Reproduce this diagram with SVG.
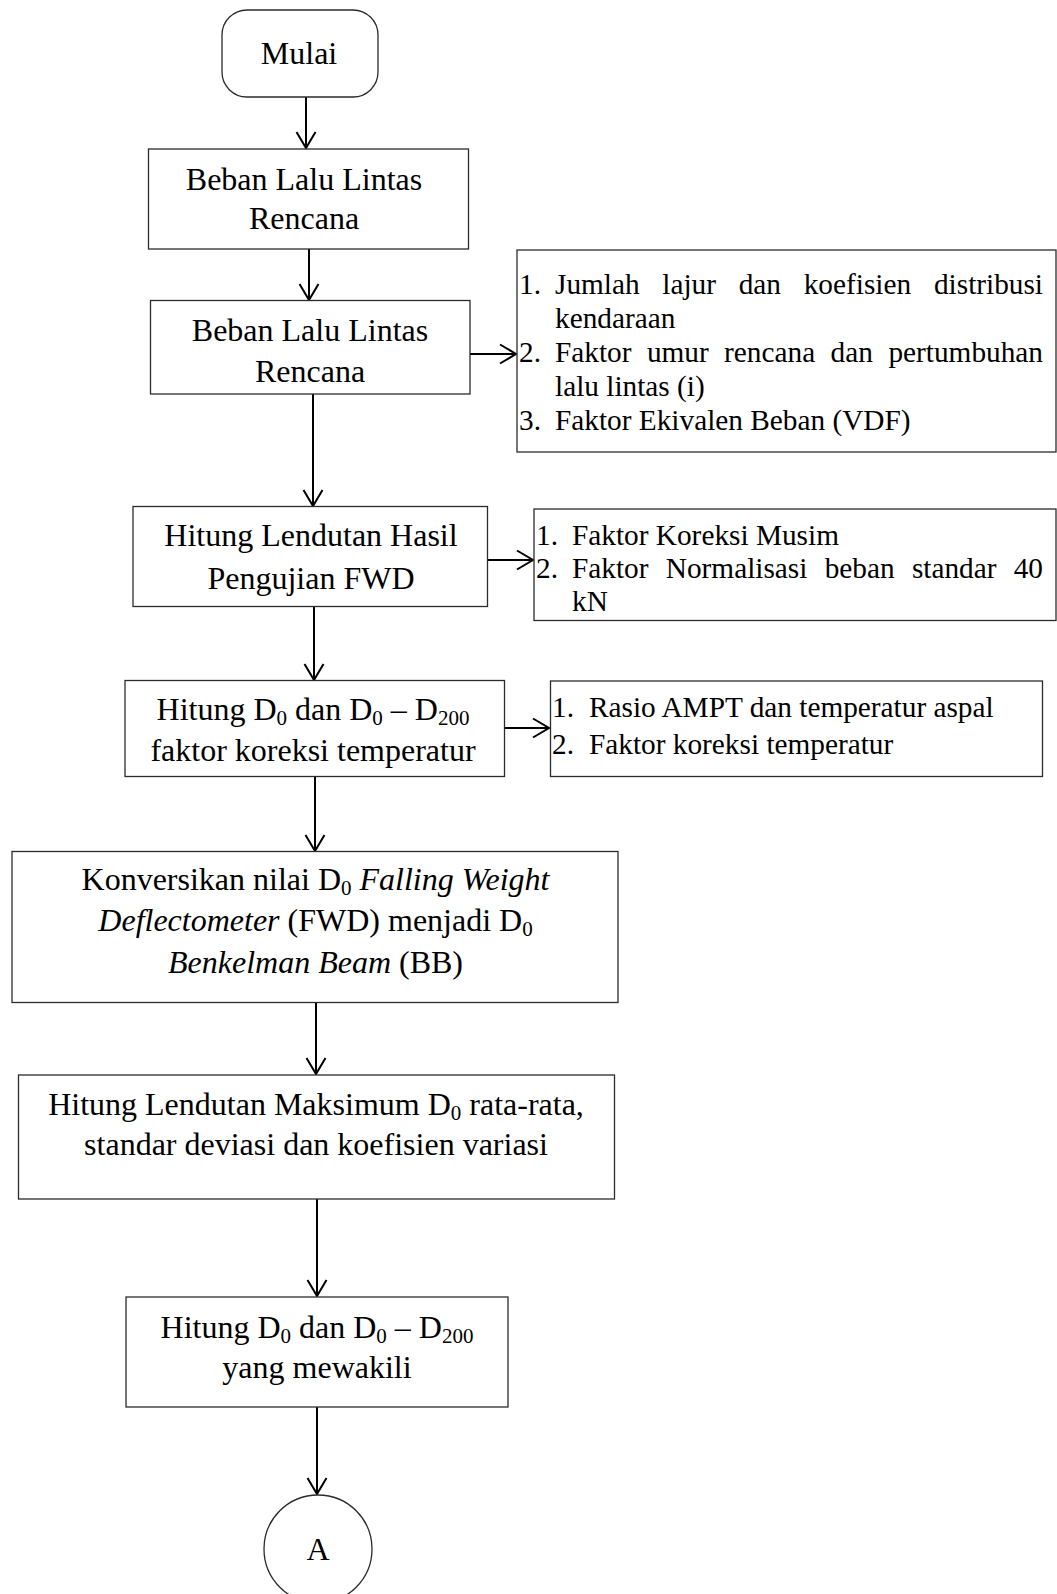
<svg xmlns="http://www.w3.org/2000/svg" width="1057" height="1594" viewBox="0 0 1057 1594">
  <style>
    .shape { fill: #ffffff; stroke: #2b2b2b; stroke-width: 1.3; }
    .conn { fill: none; stroke: #000000; stroke-width: 2; }
    .t { font-family: "Liberation Serif", "Times New Roman", serif; font-size: 32px; fill: #000000; }
    .tc { text-anchor: middle; }
    .l { font-family: "Liberation Serif", "Times New Roman", serif; font-size: 29.3px; fill: #000000; }
    .end { text-anchor: end; }
    .it { font-style: italic; }
    .sub { font-size: 21px; }
  </style>
  <defs>
    <marker id="open-arrow" markerUnits="userSpaceOnUse" markerWidth="24" markerHeight="24" refX="0" refY="0" viewBox="-18 -12 20 24" orient="auto">
      <path d="M -16 -9.5 L 0 0 L -16 9.5" fill="none" stroke="#000000" stroke-width="2"/>
    </marker>
  </defs>

  <rect width="1057" height="1594" fill="#ffffff"/>

  <!-- connectors -->
  <g id="connectors">
    <path class="conn" d="M 306 97 L 306 148" marker-end="url(#open-arrow)"/>
    <path class="conn" d="M 309 249 L 309 300" marker-end="url(#open-arrow)"/>
    <path class="conn" d="M 470 354 L 516 354" marker-end="url(#open-arrow)"/>
    <path class="conn" d="M 313 394 L 313 506" marker-end="url(#open-arrow)"/>
    <path class="conn" d="M 488 560 L 533 560" marker-end="url(#open-arrow)"/>
    <path class="conn" d="M 314 607 L 314 680" marker-end="url(#open-arrow)"/>
    <path class="conn" d="M 504 728 L 549 728" marker-end="url(#open-arrow)"/>
    <path class="conn" d="M 315 777 L 315 851" marker-end="url(#open-arrow)"/>
    <path class="conn" d="M 316 1003 L 316 1074" marker-end="url(#open-arrow)"/>
    <path class="conn" d="M 317 1199 L 317 1296" marker-end="url(#open-arrow)"/>
    <path class="conn" d="M 317 1407 L 317 1494" marker-end="url(#open-arrow)"/>
  </g>

  <!-- start terminal -->
  <g id="start">
    <rect class="shape" x="222" y="10" width="156" height="87" rx="25" ry="25"/>
    <text class="t tc" x="299" y="64">Mulai</text>
  </g>

  <g id="traffic-load-1">
    <rect class="shape" x="148.5" y="149" width="320" height="100"/>
    <text class="t tc" x="304" y="190">Beban Lalu Lintas</text>
    <text class="t tc" x="304" y="229">Rencana</text>
  </g>

  <g id="traffic-load-2">
    <rect class="shape" x="150.5" y="300.5" width="319.5" height="93.5"/>
    <text class="t tc" x="310" y="341">Beban Lalu Lintas</text>
    <text class="t tc" x="310" y="382">Rencana</text>
  </g>

  <g id="traffic-factors">
    <rect class="shape" x="517" y="250" width="539" height="202"/>
    <text class="l" x="519" y="294">1.</text>
    <text class="l" x="555" y="294">Jumlah</text>
    <text class="l" x="662.3" y="294">lajur</text>
    <text class="l" x="738.7" y="294">dan</text>
    <text class="l" x="803.7" y="294">koefisien</text>
    <text class="l end" x="1043" y="294">distribusi</text>
    <text class="l" x="555" y="328">kendaraan</text>
    <text class="l" x="519" y="362">2.</text>
    <text class="l" x="555" y="362">Faktor</text>
    <text class="l" x="646.9" y="362">umur</text>
    <text class="l" x="724.1" y="362">rencana</text>
    <text class="l" x="830.6" y="362">dan</text>
    <text class="l end" x="1043" y="362">pertumbuhan</text>
    <text class="l" x="555" y="396">lalu lintas (i)</text>
    <text class="l" x="519" y="430">3.</text>
    <text class="l" x="555" y="430">Faktor Ekivalen Beban (VDF)</text>
  </g>

  <g id="fwd-deflection">
    <rect class="shape" x="133" y="506.5" width="354.5" height="100"/>
    <text class="t tc" x="311" y="546">Hitung Lendutan Hasil</text>
    <text class="t tc" x="311" y="589">Pengujian FWD</text>
  </g>

  <g id="fwd-factors">
    <rect class="shape" x="534" y="509" width="522" height="111.5"/>
    <text class="l" x="536" y="545">1.</text>
    <text class="l" x="572" y="545">Faktor Koreksi Musim</text>
    <text class="l" x="536" y="578">2.</text>
    <text class="l" x="572" y="578">Faktor</text>
    <text class="l" x="665.8" y="578">Normalisasi</text>
    <text class="l" x="824.7" y="578">beban</text>
    <text class="l" x="911.9" y="578">standar</text>
    <text class="l end" x="1043" y="578">40</text>
    <text class="l" x="572" y="611">kN</text>
  </g>

  <g id="temperature-correction">
    <rect class="shape" x="125" y="680.5" width="379.5" height="96"/>
    <text class="t tc" x="313" y="720">Hitung D<tspan class="sub" dy="5">0</tspan><tspan dy="-5"> dan D</tspan><tspan class="sub" dy="5">0</tspan><tspan dy="-5"> – D</tspan><tspan class="sub" dy="5">200</tspan></text>
    <text class="t tc" x="313" y="761">faktor koreksi temperatur</text>
  </g>

  <g id="temperature-factors">
    <rect class="shape" x="550.5" y="681" width="492" height="95.5"/>
    <text class="l" x="552" y="717">1.</text>
    <text class="l" x="589" y="717">Rasio AMPT dan temperatur aspal</text>
    <text class="l" x="552" y="754">2.</text>
    <text class="l" x="589" y="754">Faktor koreksi temperatur</text>
  </g>

  <g id="fwd-to-bb">
    <rect class="shape" x="12" y="851.5" width="606" height="151"/>
    <text class="t tc" x="315.5" y="890">Konversikan nilai D<tspan class="sub" dy="5">0</tspan><tspan dy="-5" class="it"> Falling Weight</tspan></text>
    <text class="t tc" x="315.5" y="931"><tspan class="it">Deflectometer</tspan> (FWD) menjadi D<tspan class="sub" dy="5">0</tspan></text>
    <text class="t tc" x="315.5" y="973"><tspan class="it">Benkelman Beam</tspan> (BB)</text>
  </g>

  <g id="max-deflection">
    <rect class="shape" x="18.5" y="1075" width="596" height="124"/>
    <text class="t tc" x="316" y="1115">Hitung Lendutan Maksimum D<tspan class="sub" dy="5">0</tspan><tspan dy="-5"> rata-rata,</tspan></text>
    <text class="t tc" x="316" y="1155">standar deviasi dan koefisien variasi</text>
  </g>

  <g id="representative-deflection">
    <rect class="shape" x="126" y="1297" width="382" height="110"/>
    <text class="t tc" x="317" y="1338">Hitung D<tspan class="sub" dy="5">0</tspan><tspan dy="-5"> dan D</tspan><tspan class="sub" dy="5">0</tspan><tspan dy="-5"> – D</tspan><tspan class="sub" dy="5">200</tspan></text>
    <text class="t tc" x="317" y="1378">yang mewakili</text>
  </g>

  <g id="connector-a">
    <circle class="shape" cx="318" cy="1549" r="54"/>
    <text class="t tc" x="318" y="1560">A</text>
  </g>
</svg>
